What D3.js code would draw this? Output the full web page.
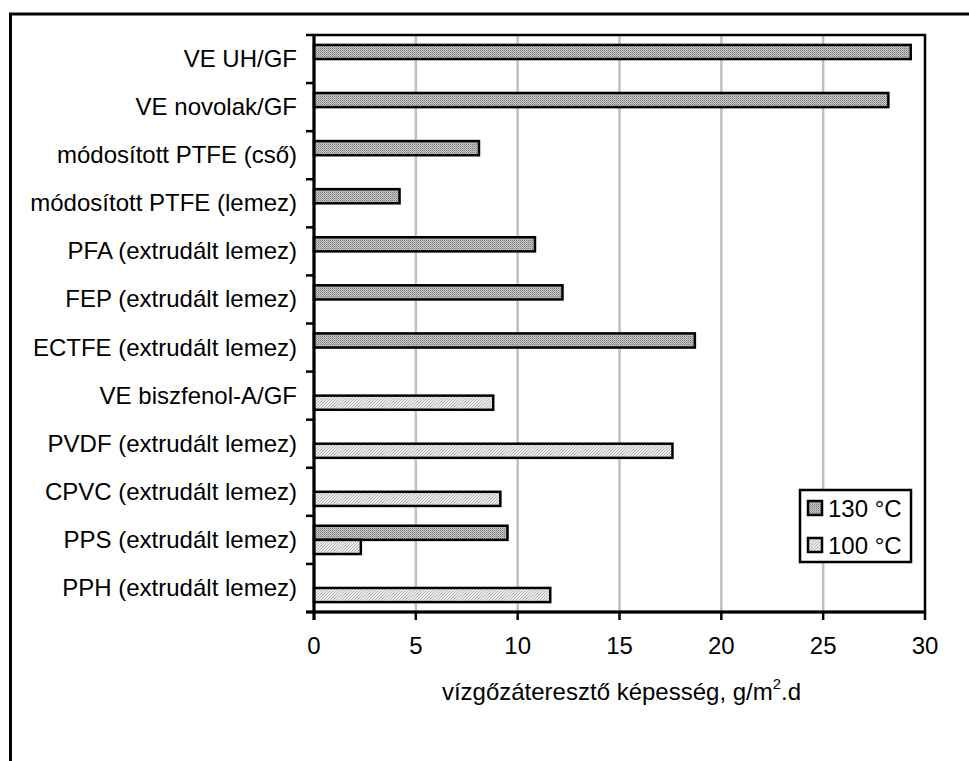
<!DOCTYPE html>
<html><head><meta charset="utf-8">
<script src="https://cdn.jsdelivr.net/npm/d3@7/dist/d3.min.js"></script>
<style>
html,body{margin:0;padding:0;background:#fff;}
svg{display:block;font-family:"Liberation Sans",Arial,sans-serif;}
</style></head>
<body>
<svg id="chart" width="969" height="761"></svg>
<script>
const categories = ["VE UH/GF","VE novolak/GF","módosított PTFE (cső)","módosított PTFE (lemez)","PFA (extrudált lemez)","FEP (extrudált lemez)","ECTFE (extrudált lemez)","VE biszfenol-A/GF","PVDF (extrudált lemez)","CPVC (extrudált lemez)","PPS (extrudált lemez)","PPH (extrudált lemez)"];
const series = ["130 °C","100 °C"];
const values130 = [29.3, 28.2, 8.1, 4.2, 10.85, 12.2, 18.7, null, null, null, 9.5, null];
const values100 = [null, null, null, null, null, null, null, 8.8, 17.6, 9.15, 2.3, 11.6];
const xTicks = [0,5,10,15,20,25,30];

const svg = d3.select("#chart");
const defs = svg.append("defs");
// dark dotted pattern
const p1 = defs.append("pattern").attr("id","pat130").attr("patternUnits","userSpaceOnUse").attr("width",2).attr("height",2);
p1.append("rect").attr("width",2).attr("height",2).attr("fill","#c8c8c8");
p1.append("rect").attr("x",0).attr("y",0).attr("width",1).attr("height",1).attr("fill","#7a7a7a");
p1.append("rect").attr("x",1).attr("y",1).attr("width",1).attr("height",1).attr("fill","#a0a0a0");
// light diagonal pattern
const p2 = defs.append("pattern").attr("id","pat100").attr("patternUnits","userSpaceOnUse").attr("width",3).attr("height",3);
p2.append("rect").attr("width",3).attr("height",3).attr("fill","#ececec");
p2.append("rect").attr("x",0).attr("y",2).attr("width",1).attr("height",1).attr("fill","#b4b4b4");
p2.append("rect").attr("x",1).attr("y",1).attr("width",1).attr("height",1).attr("fill","#b4b4b4");
p2.append("rect").attr("x",2).attr("y",0).attr("width",1).attr("height",1).attr("fill","#b4b4b4");

const fills = {"130 °C":"url(#pat130)","100 °C":"url(#pat100)"};

// outer chart border (left and top visible)
svg.append("path").attr("d","M10.5,761 V14 H969").attr("fill","none").attr("stroke","#000").attr("stroke-width",3);

const L=314, R=925, T=35, B=612;
const FS = 24;
const x = d3.scaleLinear().domain([0,30]).range([L,R]);
const y0 = d3.scaleBand().domain(categories).range([T,B]).padding(0);
const y1 = d3.scaleBand().domain(series).range([0,y0.bandwidth()]).paddingInner(0).paddingOuter(0.7);

// gridlines
svg.append("g").selectAll("line").data(xTicks.filter(t=>t>0 && t<30)).join("line")
  .attr("x1",d=>x(d)).attr("x2",d=>x(d)).attr("y1",T).attr("y2",B)
  .attr("stroke","#c0c0c0").attr("stroke-width",2.5);

// plot area border
svg.append("rect").attr("x",L).attr("y",T).attr("width",R-L).attr("height",B-T)
  .attr("fill","none").attr("stroke","#000").attr("stroke-width",2.5);

// bars
const rows = [];
categories.forEach((c,i)=>{
  if(values130[i]!=null) rows.push({c, s:"130 °C", v:values130[i]});
  if(values100[i]!=null) rows.push({c, s:"100 °C", v:values100[i]});
});
svg.append("g").selectAll("rect").data(rows).join("rect")
  .attr("x",x(0))
  .attr("y",d=>y0(d.c)+y1(d.s))
  .attr("width",d=>x(d.v)-x(0))
  .attr("height",y1.bandwidth())
  .attr("fill",d=>fills[d.s])
  .attr("stroke","#000").attr("stroke-width",2.5);

// y axis
const yAxisG = svg.append("g");
yAxisG.append("line").attr("x1",L).attr("x2",L).attr("y1",T).attr("y2",B+8).attr("stroke","#000").attr("stroke-width",3);
const yTickPos = categories.map(c=>y0(c)).concat([B]);
yAxisG.selectAll("line.t").data(yTickPos).join("line").attr("class","t")
  .attr("x1",L-8).attr("x2",L).attr("y1",d=>d).attr("y2",d=>d).attr("stroke","#000").attr("stroke-width",2.5);
yAxisG.selectAll("text").data(categories).join("text")
  .attr("x",297).attr("y",c=>y0(c)+y0.bandwidth()/2+8)
  .attr("text-anchor","end").attr("font-size",FS).attr("fill","#000").text(c=>c);

// x axis
const xAxisG = svg.append("g");
xAxisG.append("line").attr("x1",L-8).attr("x2",R).attr("y1",B).attr("y2",B).attr("stroke","#000").attr("stroke-width",3);
xAxisG.selectAll("line.t").data(xTicks).join("line").attr("class","t")
  .attr("x1",d=>x(d)).attr("x2",d=>x(d)).attr("y1",B).attr("y2",B+8).attr("stroke","#000").attr("stroke-width",2.5);
xAxisG.selectAll("text").data(xTicks).join("text")
  .attr("x",d=>x(d)).attr("y",654).attr("text-anchor","middle").attr("font-size",FS).attr("fill","#000").text(d=>d);

// axis title
const title = svg.append("text").attr("x",(L+R)/2+2).attr("y",700).attr("text-anchor","middle").attr("font-size",FS).attr("fill","#000");
title.append("tspan").text("vízgőzáteresztő képesség, g/m");
title.append("tspan").attr("dy",-11).attr("font-size",15).text("2");
title.append("tspan").attr("dy",11).text(".d");

// legend
const lg = svg.append("g");
lg.append("rect").attr("x",800).attr("y",490).attr("width",111).attr("height",72).attr("fill","#fff").attr("stroke","#000").attr("stroke-width",2.5);
const ly = [501, 538];
series.forEach((s,i)=>{
  lg.append("rect").attr("x",808).attr("y",ly[i]).attr("width",14).attr("height",14).attr("fill",fills[s]).attr("stroke","#000").attr("stroke-width",2.5);
  lg.append("text").attr("x",828).attr("y",ly[i]+15.5).attr("font-size",FS).attr("fill","#000").text(s);
});
</script>
</body></html>
